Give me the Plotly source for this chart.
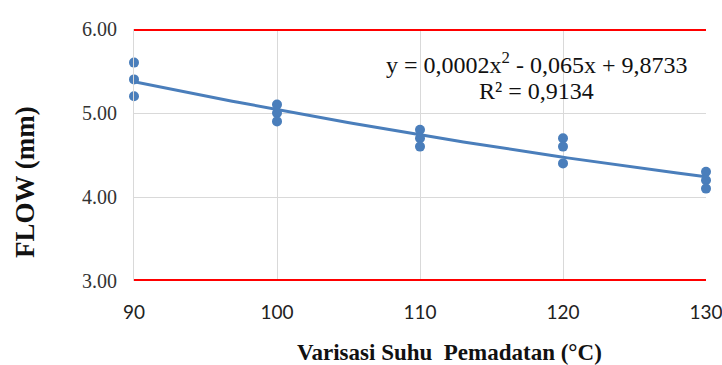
import numpy as np
import plotly.graph_objects as go

# Data
temps = [90, 90, 90, 100, 100, 100, 110, 110, 110, 120, 120, 120, 130, 130, 130]
flow = [5.6, 5.4, 5.2, 5.1, 5.0, 4.9, 4.8, 4.7, 4.6, 4.7, 4.6, 4.4, 4.3, 4.2, 4.1]
spec_limits = [3.0, 6.0]
x_ticks = [90, 100, 110, 120, 130]
y_ticks = [3.0, 4.0, 5.0, 6.0]
eq_text = "y = 0,0002x<sup>2</sup> - 0,065x + 9,8733"
r2_text = "R² = 0,9134"

blue = "#4A7EBB"
serif = "Liberation Serif, Times New Roman, serif"

coef = np.polyfit(temps, flow, 2)
xs = np.linspace(min(x_ticks), max(x_ticks), 100)
ys = np.polyval(coef, xs)

fig = go.Figure()

for lim in spec_limits:
    fig.add_trace(go.Scatter(x=[x_ticks[0], x_ticks[-1]], y=[lim, lim], mode="lines",
                             line=dict(color="#FF0000", width=4), cliponaxis=False,
                             hoverinfo="skip", showlegend=False))

fig.add_trace(go.Scatter(x=xs, y=ys, mode="lines", line=dict(color=blue, width=3),
                         cliponaxis=False, showlegend=False))
fig.add_trace(go.Scatter(x=temps, y=flow, mode="markers",
                         marker=dict(color=blue, size=10), cliponaxis=False, showlegend=False))

fig.update_layout(
    width=722, height=365,
    margin=dict(l=134, r=16, t=29, b=84, autoexpand=False),
    paper_bgcolor="white", plot_bgcolor="white",
    showlegend=False,
    xaxis=dict(range=[x_ticks[0], x_ticks[-1]], tickvals=x_ticks,
               showgrid=True, gridcolor="#D9D9D9", gridwidth=1,
               zeroline=False, showline=False, automargin=False,
               ticks="outside", ticklen=0, tickcolor="rgba(0,0,0,0)",
               ticklabelstandoff=14, ticklabeloverflow="allow",
               tickfont=dict(family="Lato, Carlito, sans-serif", size=19, color="#222")),
    yaxis=dict(range=[spec_limits[0], spec_limits[1]], tickvals=y_ticks,
               tickformat=".2f", automargin=False,
               showgrid=True, gridcolor="#D9D9D9", gridwidth=1,
               zeroline=False, showline=True, linecolor="#D9D9D9", linewidth=1,
               ticks="outside", ticklen=0, tickcolor="rgba(0,0,0,0)",
               ticklabelstandoff=12,
               tickfont=dict(family=serif, size=20, color="#333")),
    annotations=[
        dict(text="<b>FLOW (mm)</b>", xref="paper", yref="paper", x=-0.1906, y=0.393,
             textangle=-90, showarrow=False, font=dict(family=serif, size=27, color="#111"),
             xanchor="center", yanchor="middle"),
        dict(text="<b>Varisasi Suhu  Pemadatan (°C)</b>", xref="paper", yref="paper",
             x=0.551, y=-0.282, showarrow=False,
             font=dict(family=serif, size=23, color="#111"),
             xanchor="center", yanchor="middle"),
        dict(text=eq_text, xref="paper", yref="paper", x=0.703, y=0.866, showarrow=False,
             font=dict(family=serif, size=24, color="#111"), xanchor="center", yanchor="middle"),
        dict(text=r2_text, xref="paper", yref="paper", x=0.703, y=0.754, showarrow=False,
             font=dict(family=serif, size=24, color="#111"), xanchor="center", yanchor="middle"),
    ],
)

fig.write_html("out.html", config={"displayModeBar": False},
               post_script="document.body.style.margin='0';")
